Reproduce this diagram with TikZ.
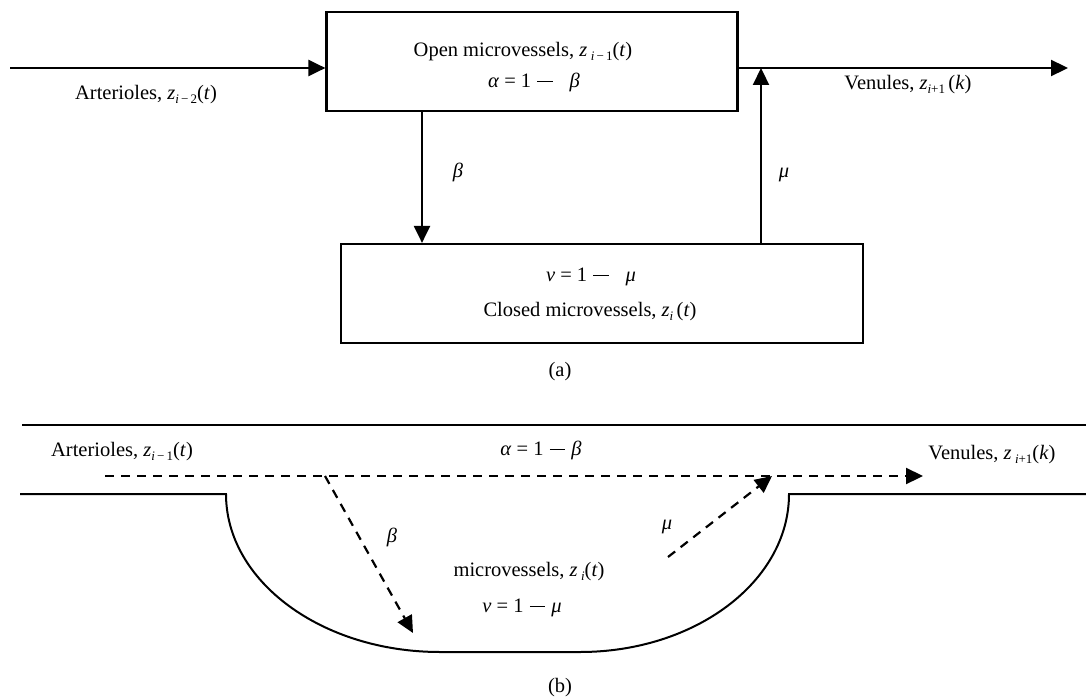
\documentclass[tikz,border=0pt]{standalone}
\usepackage{fontspec}
\setmainfont{Liberation Serif}
\usetikzlibrary{arrows.meta}
\newcommand\lo[1]{\raisebox{-0.35ex}{\fontsize{13}{13}\selectfont #1}}
\newcommand\iv[1]{\textit{#1}}
\newcommand\mn{\hspace{0.3em}\rule[0.27em]{0.75em}{0.9pt}\hspace{0.3em}}
\begin{document}
\begin{tikzpicture}[x=1pt,y=-1pt,
  txt/.style={inner sep=0pt,font=\fontsize{20.5}{23}\selectfont},
  boxn/.style={draw,line width=2.2pt,inner sep=0pt},
  flow/.style={line width=2.2pt,-{Triangle[length=17pt,width=16pt]}},
  dflow/.style={line width=2.2pt,dash pattern=on 9pt off 7pt,-{Triangle[length=17pt,width=16pt]}},
  wall/.style={line width=2pt}]
\useasboundingbox (0,0) rectangle (1086,698);
% ---- (a) ----
\node[boxn,minimum width=411pt,minimum height=99pt] (open) at (532,61.5) {};
\node[boxn,minimum width=522pt,minimum height=99pt] (closed) at (602,293.5) {};
\node[txt] (t1) at (523,52) {Open microvessels, \iv{z}\,\lo{\iv{i}\,−\,1}(\iv{t})};
\node[txt] (t2) at (534,82) {\iv{α} = 1\mn\; \iv{β}};
\node[txt] (t3) at (591,277) {\iv{ν} = 1\mn\; \iv{μ}};
\node[txt] (t4) at (590,312) {Closed microvessels, \iv{z}\lo{\iv{i}}\,(\iv{t})};
\coordinate (ain) at (10,68);
\coordinate (aout) at (1068,68);
\coordinate (bx) at (422,0);
\coordinate (mx) at (761,0);
\draw[flow] (ain) -- (open.west |- ain);
\draw[flow] (open.east |- aout) -- (aout);
\draw[flow] (open.south -| bx) -- (closed.north -| bx);
\draw[flow] (closed.north -| mx) -- (mx |- aout);
\node[txt] (art1) at (146,95) {Arterioles, \iv{z}\lo{\iv{i}\,−\,2}(\iv{t})};
\node[txt] (ven1) at (908,85) {Venules, \iv{z}\lo{\iv{i}+1}\,(\iv{k})};
\node[txt] (lb1) at (458,172) {\iv{β}};
\node[txt] (lm1) at (784,175) {\iv{μ}};
\node[txt] (capa) at (560,372) {(a)};
% ---- (b) ----
\draw[wall] (22,425) -- (1086,425);
\draw[wall] (20,494) -- (226,494)
  .. controls (226,581.3) and (321.8,652) .. (440,652)
  -- (580,652)
  .. controls (695.4,652) and (789,581.3) .. (789,494)
  -- (1086,494);
\coordinate (din) at (105,476);
\coordinate (dout) at (923,476);
\coordinate (bs) at (325,476);
\coordinate (be) at (413,633);
\coordinate (ms) at (668,557);
\coordinate (me) at (772,476);
\draw[dflow] (din) -- (dout);
\draw[dflow] (bs) -- (be);
\draw[dflow] (ms) -- (me);
\node[txt] (art2) at (122,452) {Arterioles, \iv{z}\lo{\iv{i}\,−\,1}(\iv{t})};
\node[txt] (al2) at (541,450) {\iv{α} = 1\mn\iv{β}};
\node[txt] (ven2) at (992,455) {Venules, \iv{z}\,\lo{\iv{i}+1}(\iv{k})};
\node[txt] (lb2) at (392,537) {\iv{β}};
\node[txt] (lm2) at (667,527) {\iv{μ}};
\node[txt] (mic) at (529,572) {microvessels, \iv{z}\,\lo{\iv{i}}(\iv{t})};
\node[txt] (nu2) at (522,608) {\iv{ν} = 1\mn\iv{μ}};
\node[txt] (capb) at (560,688) {(b)};
\end{tikzpicture}
\end{document}
